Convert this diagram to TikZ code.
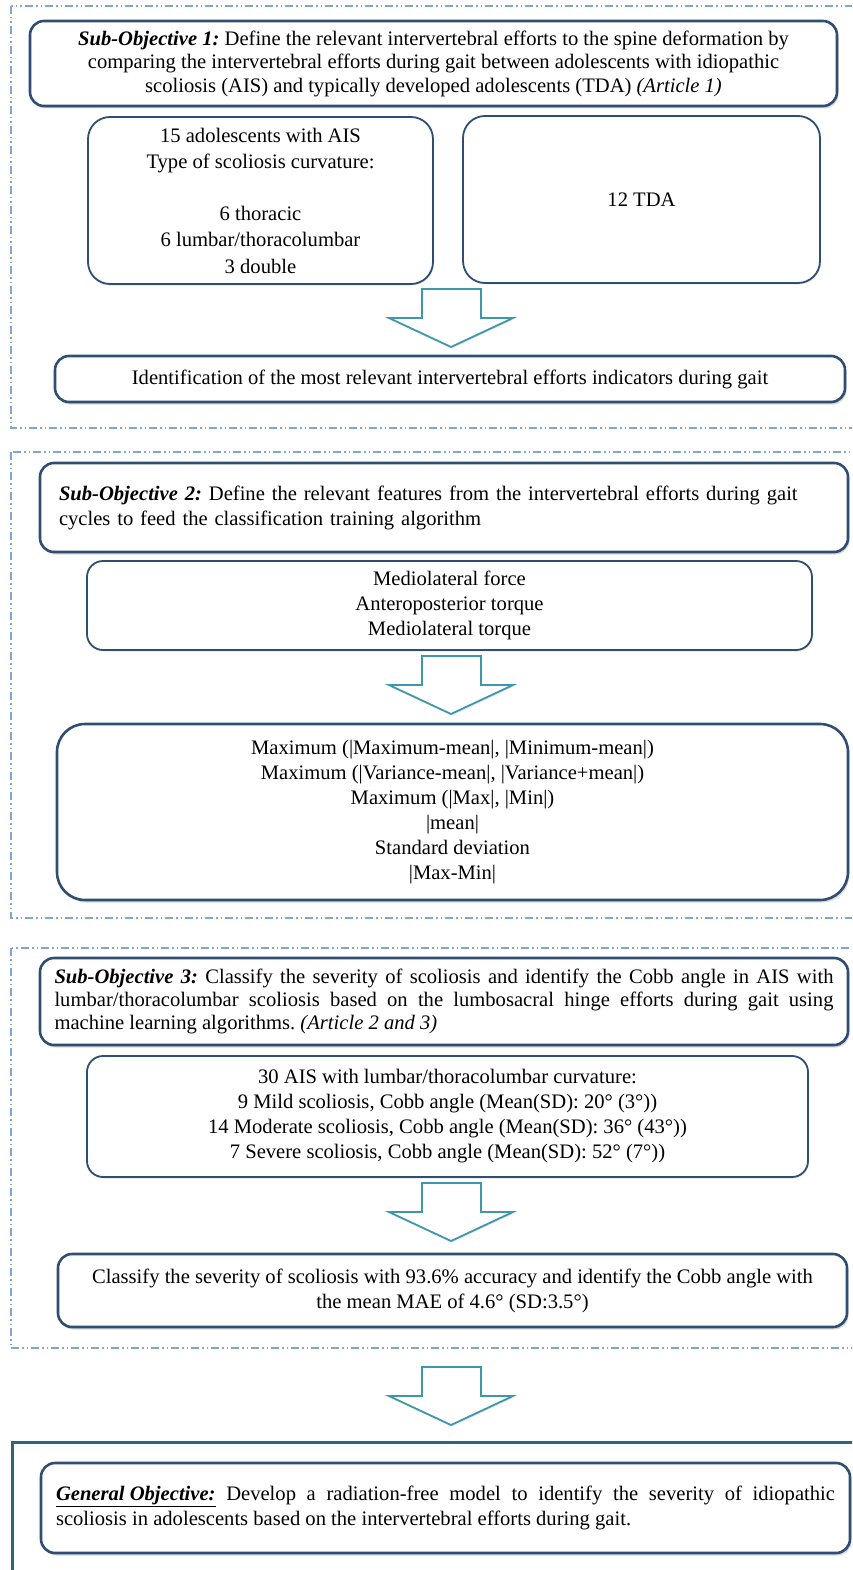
\documentclass[tikz,border=0pt]{standalone}
\usepackage{fontspec}
\setmainfont{Liberation Serif}
\usetikzlibrary{shadows}
\definecolor{navy}{HTML}{2F4E72}
\definecolor{framec}{HTML}{7EA8D2}
\definecolor{arrowc}{HTML}{3D98AE}
\definecolor{finalc}{HTML}{2C6778}
\frenchspacing
\tikzset{
  fnt/.style={font=\fontsize{20.6}{25}\selectfont},
  mainbox/.style={draw=navy, line width=2.6pt, rounded corners=14pt, fill=white, inner sep=0pt, fnt,
    drop shadow={opacity=0.3, shadow xshift=1.5pt, shadow yshift=-2.5pt}},
  subbox/.style={draw=navy, line width=1.8pt, rounded corners=16pt, fill=white, inner sep=0pt, fnt,
    drop shadow={opacity=0.18, shadow xshift=1pt, shadow yshift=-1.5pt}},
  frame/.style={draw=framec, line width=1.4pt, dash pattern=on 8pt off 3pt on 1.5pt off 3pt on 1.5pt off 3pt},
  bigarrow/.pic={\draw[arrowc, line width=1.8pt, line join=miter, fill=white,
      drop shadow={opacity=0.2, shadow xshift=1pt, shadow yshift=-1.5pt}]
      (-29,0) -- (30,0) -- (30,29) -- (62,29) -- (0,58) -- (-62,29) -- (-29,29) -- cycle;}
}
\begin{document}
\begin{tikzpicture}[x=1pt,y=-1pt]
\useasboundingbox (0,0) rectangle (852,1570);
\clip (0,0) rectangle (852,1570);
\fill[white] (0,0) rectangle (852,1570);

% dashed frames
\draw[frame] (11,6) rectangle (880,428);
\draw[frame] (11,452) rectangle (880,918);
\draw[frame] (11,948) rectangle (880,1348);
\draw[finalc, line width=3pt] (12,1620) -- (12,1442) -- (880,1442);

% Sub-objective 1
\node[mainbox, minimum width=807pt, minimum height=85pt, align=center, font=\fontsize{20.6}{23.5}\selectfont]
  (s1) at (433.5,63.5)
  {\textbf{\textit{Sub-Objective 1:}} Define the relevant intervertebral efforts to the spine deformation by\\
   comparing the intervertebral efforts during gait between adolescents with idiopathic\\
   scoliosis (AIS) and typically developed adolescents (TDA) \textit{(Article 1)}};

\node[subbox, rounded corners=22pt, minimum width=345pt, minimum height=167pt, align=center, font=\fontsize{20.6}{26.2}\selectfont]
  (ais) at (260.5,200.5)
  {15 adolescents with AIS\\ Type of scoliosis curvature:\\ ~\\ 6 thoracic\\ 6 lumbar/thoracolumbar\\ 3 double};
\node[subbox, rounded corners=22pt, minimum width=357pt, minimum height=167pt, align=center]
  (tda) at (641.5,199.5) {12 TDA};

\pic at (451,289) {bigarrow};

\node[mainbox, minimum width=790pt, minimum height=46pt, align=center]
  (ident) at (450,379) {Identification of the most relevant intervertebral efforts indicators during gait};

% Sub-objective 2
\node[mainbox, minimum width=808pt, minimum height=89pt, text width=770pt, align=left]
  (s2) at (444,507.5)
  {\textbf{\textit{Sub-Objective 2:}} Define the relevant features from the intervertebral efforts during gait\\
   cycles to feed the classification training algorithm};

\node[subbox, minimum width=725pt, minimum height=89pt, align=center]
  (feat) at (449.5,605.5)
  {Mediolateral force\\ Anteroposterior torque\\ Mediolateral torque};

\pic at (451,656) {bigarrow};

\node[mainbox, rounded corners=28pt, minimum width=791pt, minimum height=176pt, align=center]
  (maxb) at (452.5,812)
  {Maximum (|Maximum-mean|, |Minimum-mean|)\\
   Maximum (|Variance-mean|, |Variance+mean|)\\
   Maximum (|Max|, |Min|)\\
   |mean|\\
   Standard deviation\\
   |Max-Min|};

% Sub-objective 3
\node[mainbox, minimum width=808pt, minimum height=87pt, text width=779pt, align=justify, font=\fontsize{20.6}{23}\selectfont]
  (s3) at (444,1001.5)
  {\hyphenpenalty=10000 \textbf{\textit{Sub-Objective 3:}} Classify the severity of scoliosis and identify the Cobb angle in AIS with\linebreak
   lumbar/thoracolumbar scoliosis based on the lumbosacral hinge efforts during gait using\linebreak
   machine learning algorithms. \textit{(Article 2 and 3)}};

\node[subbox, minimum width=721pt, minimum height=121pt, align=center]
  (ais30) at (447.5,1116.5)
  {30 AIS with lumbar/thoracolumbar curvature:\\
   9 Mild scoliosis, Cobb angle (Mean(SD): 20° (3°))\\
   14 Moderate scoliosis, Cobb angle (Mean(SD): 36° (43°))\\
   7 Severe scoliosis, Cobb angle (Mean(SD): 52° (7°))};

\pic at (451,1183) {bigarrow};

\node[mainbox, minimum width=789pt, minimum height=73pt, align=center]
  (cls) at (452.5,1290.5)
  {Classify the severity of scoliosis with 93.6\% accuracy and identify the Cobb angle with\\
   the mean MAE of 4.6° (SD:3.5°)};

\pic at (451,1367) {bigarrow};

% General objective
\node[mainbox, minimum width=809pt, minimum height=90pt, text width=779pt, align=justify]
  (gen) at (445.5,1508)
  {\hyphenpenalty=10000 \textbf{\textit{\underline{General Objective:}}} Develop a radiation-free model to identify the severity of idiopathic\linebreak
   scoliosis in adolescents based on the intervertebral efforts during gait.};
\end{tikzpicture}
\end{document}
